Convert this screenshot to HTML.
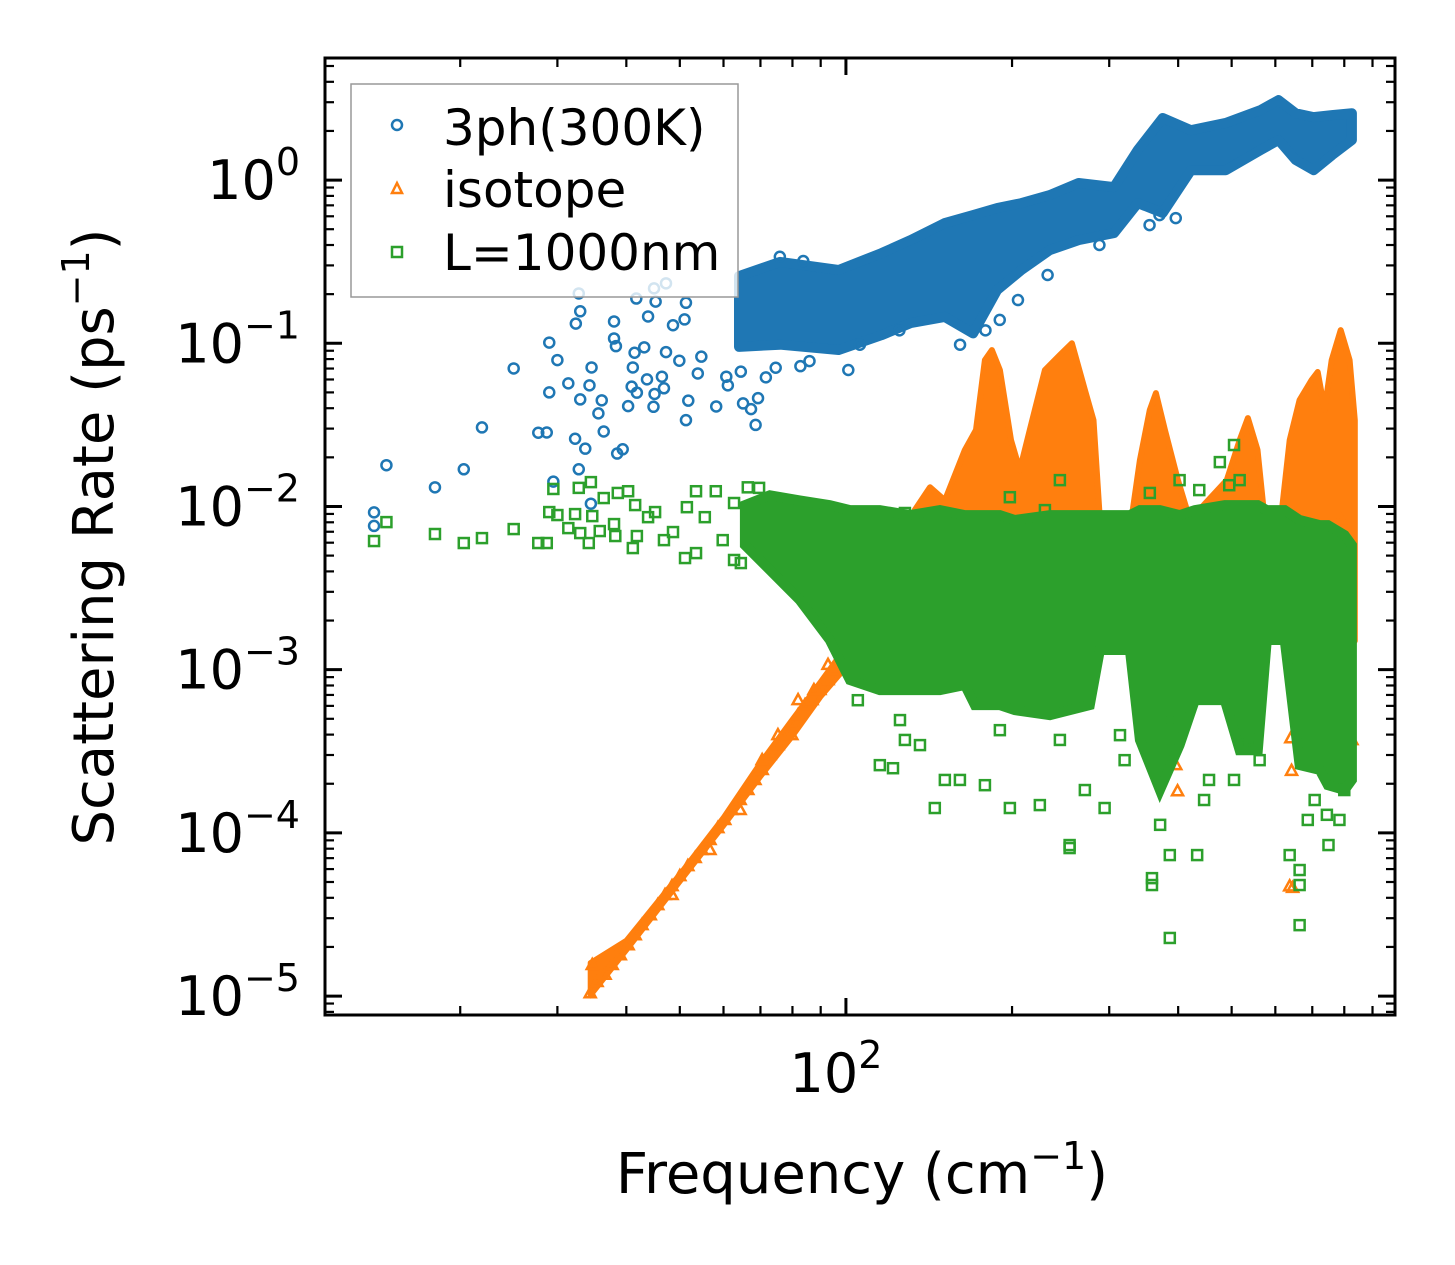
<!DOCTYPE html>
<html><head><meta charset="utf-8">
<style>
html,body{margin:0;padding:0;background:#fff;}
svg{display:block;font-family:"DejaVu Sans","Liberation Sans",sans-serif;}
</style></head>
<body>
<svg id="chart" width="1455" height="1265" viewBox="0 0 1455 1265" xmlns="http://www.w3.org/2000/svg">
<rect x="0" y="0" width="1455" height="1265" fill="#fff"/>
<g id="plot"></g>
<g id="axes"></g>
<g id="legend">
  <rect x="351" y="84" width="387" height="213" fill="rgba(255,255,255,0.8)" stroke="#999" stroke-width="1.5"/>
  <g>
    <circle cx="397" cy="125" r="5" fill="none" stroke="#1f77b4" stroke-width="2.5"/>
    <text x="443" y="145" font-size="50">3ph(300K)</text>
  </g>
  <g>
    <path d="M397,183 L402,193 L392,193 Z" fill="none" stroke="#ff7f0e" stroke-width="2.5"/>
    <text x="443" y="207" font-size="50">isotope</text>
  </g>
  <g>
    <rect x="392" y="247" width="10" height="10" fill="none" stroke="#2ca02c" stroke-width="2.5"/>
    <text x="443" y="270" font-size="50">L=1000nm</text>
  </g>
</g>
<text x="862" y="1193" font-size="56" text-anchor="middle">Frequency (cm<tspan font-size="38" dy="-24">−1</tspan><tspan dy="24">)</tspan></text>
<text transform="translate(113,537) rotate(-90)" font-size="56" text-anchor="middle">Scattering Rate (ps<tspan font-size="38" dy="-24">−1</tspan><tspan dy="24">)</tspan></text>
</svg>
<script>
// ---- axis ranges ----
const xDomainLog = [1.056, 2.995];
const yDomainLog = [-5.116, 0.748];
const yTickExps = [0, -1, -2, -3, -4, -5];
const yTickLabels = ["0", "−1", "−2", "−3", "−4", "−5"];
const xTickExps = [2];
const xTickLabels = ["2"];
const xMinorTicks = [20,30,40,50,60,70,80,90,200,300,400,500,600,700,800,900];

// ---- 3ph(300K): scattered points ----
const blueF = [13.96,13.96,14.7,18.0,20.3,21.9,25.0,27.7,28.7,29.0,29.0,30.0,29.5,31.4,32.3,32.4,32.8,33.0,33.0,33.7,32.8,34.3,34.6,35.6,36.1,36.4,38.0,38.0,38.3,38.5,39.4,40.3,40.9,41.1,41.4,41.7,41.8,43.1,43.6,43.8,44.8,45.0,45.2,44.9,46.4,46.8,47.2,47.2,48.6,49.9,51.0,51.3,51.3,51.8,53.9,54.7,58.2,60.7,61.1,64.5,65.1,67.3,68.6,69.3,71.6,74.6,75.9,83.7,82.7,85.9,34.5,396,101,106,125,161,179,190,205,232,288,355,370];
const blueV = [0.0092,0.0076,0.0179,0.0131,0.0169,0.0305,0.0701,0.0283,0.0284,0.101,0.050,0.0789,0.0142,0.0568,0.0260,0.132,0.202,0.157,0.0453,0.0226,0.0169,0.0552,0.0711,0.0372,0.0447,0.0288,0.136,0.107,0.096,0.0211,0.0224,0.0412,0.0542,0.0711,0.0875,0.188,0.0498,0.0944,0.0601,0.146,0.0408,0.0489,0.180,0.217,0.0624,0.0530,0.233,0.0883,0.129,0.0782,0.140,0.0338,0.177,0.0445,0.0653,0.0828,0.041,0.0624,0.0552,0.0670,0.0428,0.0395,0.0316,0.0461,0.0618,0.0708,0.339,0.319,0.0724,0.0778,0.0104,0.585,0.0686,0.098,0.12,0.098,0.12,0.139,0.184,0.262,0.40,0.53,0.61];
// ---- 3ph(300K): dense band envelope ----
const blueBandF = [64,76,97,116,131,151,170,188,208,234,264,306,338,375,422,488,565,608,653,704,760,826];
const blueBandHi = [0.258,0.315,0.281,0.357,0.429,0.545,0.610,0.674,0.723,0.809,0.959,0.906,1.53,2.40,2.02,2.24,2.69,3.09,2.57,2.43,2.50,2.57];
const blueBandLo = [0.095,0.098,0.091,0.112,0.133,0.145,0.115,0.212,0.281,0.372,0.429,0.473,0.723,0.628,1.15,1.15,1.53,1.76,1.33,1.15,1.42,1.76];

// ---- isotope: diagonal points ----
const orangeF = [34.4,34.7,35.4,36.6,37.7,39.0,40.3,41.5,42.7,44.2,45.6,47.0,48.4,50.0,51.7,53.3,54.8,56.7,58.6,60.3,62.1,64.3,66.4,68.4,70.5,72.8,75.3,77.5,79.8,81.9,84.3,86.8,89.7,92.8,95.5,98.3,101.7,70.5,75.3,81.9,87.5,92.8,79.8,64.3,56.7,48.4,396,399,640,642,645,826,788,788,637];
const orangeV = [1.04e-5,1.55e-5,1.22e-5,1.35e-5,1.55e-5,1.78e-5,2.05e-5,2.36e-5,2.72e-5,3.13e-5,3.61e-5,4.16e-5,4.72e-5,5.43e-5,6.26e-5,7.01e-5,7.85e-5,9.04e-5,1.07e-4,1.20e-4,1.38e-4,1.59e-4,1.83e-4,2.11e-4,2.43e-4,3.00e-4,3.45e-4,3.97e-4,4.58e-4,5.27e-4,6.07e-4,6.51e-4,7.50e-4,8.63e-4,9.95e-4,1.15e-3,1.32e-3,2.79e-4,3.97e-4,6.51e-4,7.50e-4,1.07e-3,3.97e-4,1.38e-4,7.85e-5,4.16e-5,2.6e-4,1.8e-4,3.8e-4,2.4e-4,4.6e-5,3.7e-4,0.0083,0.0068,4.7e-5];
// ---- isotope: diagonal band ----
const orangeDiagF = [34.4,40,50,60,70,80,90,101.7];
const orangeDiagHi = [1.6e-5,2.2e-5,5.6e-5,1.25e-4,2.7e-4,5.0e-4,8.5e-4,1.5e-3];
const orangeDiagLo = [1.0e-5,1.9e-5,5.0e-5,1.1e-4,2.2e-4,3.9e-4,6.8e-4,1.1e-3];
// ---- isotope: peak envelope ----
const orangeBandF = [101.7,110.5,119.1,125.3,133.3,142,151.1,164.3,172.1,178.6,183.9,190.1,199.1,206.6,215.4,229.4,244.2,256.7,271,281,288.5,327,341,355.4,364.5,378.4,399.5,420,490,517,535,557,574,611,637,664,698,716,737,759,788,818,836];
const orangeBandHi = [0.00152,0.0047,0.0095,0.0062,0.0095,0.0131,0.0109,0.0222,0.0294,0.0789,0.0908,0.0685,0.0255,0.0167,0.0294,0.0685,0.0847,0.100,0.0517,0.0338,0.00826,0.00716,0.0192,0.039,0.0495,0.0294,0.0145,0.00826,0.0145,0.0255,0.0348,0.0222,0.00826,0.00716,0.0255,0.0449,0.0595,0.0667,0.039,0.0789,0.1205,0.0789,0.0338];
const orangeBandLo = [0.0012,0.0012,0.0013,0.0014,0.0015,0.0015,0.0015,0.0015,0.0015,0.0015,0.0015,0.0015,0.0015,0.0015,0.0015,0.0015,0.0015,0.0015,0.0015,0.0015,0.0015,0.0015,0.0015,0.0015,0.0015,0.0015,0.0004,0.0008,0.0015,0.0015,0.0015,0.0015,0.0015,0.0015,0.0015,0.0015,0.0015,0.0015,0.0015,0.0015,0.0015,0.0015,0.0015];

// ---- L=1000nm: scattered points ----
const greenF = [13.96,14.7,18.0,20.3,21.9,25.0,27.7,28.7,29.0,29.5,30.0,31.4,32.3,32.8,33.0,34.5,34.2,34.7,35.8,36.4,38.0,38.2,38.6,40.3,41.5,41.1,41.8,43.8,45.1,46.8,48.6,51.1,53.5,51.5,53.5,58.1,55.5,59.8,62.7,64.5,66.4,69.6,62.7,
115.2,121.7,127.9,136.2,144.9,151.1,160.9,178.6,198.2,224.6,254.3,254.3,271,294.3,319.9,358.6,358.6,371,386.3,386.3,433,445.7,455,505,528,562,637,664,664,664,687,707,744,749,768,784,800,105.1,125.3,190.1,244.2,313.8,386.3,539,
476,495,505,562,244.2,355.4,402.4,436.8,517,198.2,127.9,142,229.4];
const greenV = [0.00614,0.00802,0.00678,0.00597,0.0064,0.00727,0.00597,0.00597,0.00924,0.0128,0.00886,0.00737,0.00898,0.0130,0.00687,0.0141,0.00597,0.00873,0.00707,0.01126,0.0078,0.00659,0.0121,0.0124,0.0102,0.00556,0.00659,0.0086,0.00924,0.00622,0.00697,0.00483,0.00518,0.0099,0.0124,0.0124,0.0086,0.00622,0.0047,0.0045,0.0131,0.0130,0.0105,
2.60e-4,2.49e-4,3.71e-4,3.45e-4,1.42e-4,2.11e-4,2.11e-4,1.96e-4,1.42e-4,1.48e-4,8.42e-5,8.07e-5,1.83e-4,1.42e-4,2.79e-4,4.79e-5,5.28e-5,1.12e-4,2.27e-5,7.31e-5,7.31e-5,1.59e-4,2.11e-4,2.11e-4,3.45e-4,2.79e-4,7.31e-5,5.92e-5,4.79e-5,2.72e-5,1.20e-4,1.59e-4,1.29e-4,8.42e-5,2.11e-4,1.20e-4,1.83e-4,6.5e-4,4.91e-4,4.26e-4,3.71e-4,3.97e-4,4.91e-4,3.71e-4,
0.0187,0.0135,0.0238,0.00826,0.0145,0.0121,0.0145,0.0126,0.0145,0.0114,0.00912,0.00886,0.0095];
// ---- L=1000nm: dense band envelope ----
const greenBandF = [65.6,72.8,82.5,93.5,101.7,115.2,130.6,148.0,164.3,171.3,190.1,202.3,234.2,276.7,288.5,327,341,370.7,402.4,428.9,486,517,557.7,579,624,664,722,747,801,826];
const greenBandHi = [0.0102,0.0117,0.0109,0.0102,0.0095,0.0095,0.00886,0.0095,0.00886,0.00886,0.00886,0.00826,0.00886,0.00886,0.00886,0.00886,0.0095,0.0095,0.00886,0.0095,0.0102,0.0102,0.0102,0.0095,0.0095,0.00826,0.00769,0.00769,0.00668,0.0058];
const greenBandLo = [0.0058,0.00408,0.00267,0.00152,8.63e-4,7.5e-4,7.5e-4,7.5e-4,8.05e-4,6.07e-4,6.07e-4,5.65e-4,5.27e-4,6.07e-4,1.32e-3,1.32e-3,3.71e-4,1.83e-4,3.45e-4,6.51e-4,6.51e-4,3.21e-4,3.21e-4,1.52e-3,1.52e-3,2.6e-4,2.43e-4,1.96e-4,1.83e-4,2.11e-4];

// ---- scales ----
const PL = 325, PR = 1395, PT = 58, PB = 1015;
function sx(f){ return PL + (Math.log10(f) - xDomainLog[0]) / (xDomainLog[1] - xDomainLog[0]) * (PR - PL); }
function sy(v){ return PB - (Math.log10(v) - yDomainLog[0]) / (yDomainLog[1] - yDomainLog[0]) * (PB - PT); }

const NS = "http://www.w3.org/2000/svg";
const plot = document.getElementById('plot');
const axes = document.getElementById('axes');
function mk(tag, attrs, parent){ const e = document.createElementNS(NS, tag); for (const k in attrs) e.setAttribute(k, attrs[k]); parent.appendChild(e); return e; }

function bandPath(F, Hi, Lo){
  let d = '';
  for (let i = 0; i < F.length; i++) d += (i ? 'L' : 'M') + sx(F[i]).toFixed(1) + ',' + sy(Hi[i]).toFixed(1);
  for (let i = F.length - 1; i >= 0; i--) d += 'L' + sx(F[i]).toFixed(1) + ',' + sy(Lo[i]).toFixed(1);
  return d + 'Z';
}

// blue
const gB = mk('g', {}, plot);


const bb = mk('path', {d: bandPath(blueBandF, blueBandHi, blueBandLo), fill: '#1f77b4', stroke: '#1f77b4', 'stroke-width': 10, 'stroke-linejoin': 'round'}, gB);


for (let i = 0; i < blueF.length; i++) {
  const c = mk('circle', {cx: sx(blueF[i]), cy: sy(blueV[i]), r: 5, fill: 'none', stroke: '#1f77b4', 'stroke-width': 2.5}, gB);
  
  
}
// orange
const gO = mk('g', {}, plot);


const ob = mk('path', {d: bandPath(orangeBandF, orangeBandHi, orangeBandLo), fill: '#ff7f0e', stroke: '#ff7f0e', 'stroke-width': 6, 'stroke-linejoin': 'round'}, gO);


const od = mk('path', {d: bandPath(orangeDiagF, orangeDiagHi, orangeDiagLo), fill: '#ff7f0e', stroke: '#ff7f0e', 'stroke-width': 5, 'stroke-linejoin': 'round'}, gO);


for (let i = 0; i < orangeF.length; i++) {
  const x = sx(orangeF[i]), y = sy(orangeV[i]);
  const t = mk('path', {d: `M${x},${y-6}L${x+5.5},${y+4}L${x-5.5},${y+4}Z`, fill: 'none', stroke: '#ff7f0e', 'stroke-width': 2.5}, gO);
  
  
}
// green
const gG = mk('g', {}, plot);


const gb = mk('path', {d: bandPath(greenBandF, greenBandHi, greenBandLo), fill: '#2ca02c', stroke: '#2ca02c', 'stroke-width': 10, 'stroke-linejoin': 'miter'}, gG);


for (let i = 0; i < greenF.length; i++) {
  const s = mk('rect', {x: sx(greenF[i]) - 5, y: sy(greenV[i]) - 5, width: 10, height: 10, fill: 'none', stroke: '#2ca02c', 'stroke-width': 2.5}, gG);
  
  
}

// frame
const fr = mk('rect', {x: PL, y: PT, width: PR - PL, height: PB - PT, fill: 'none', stroke: '#000', 'stroke-width': 3}, axes);



// y ticks
for (let e = -6; e <= 1; e++) {
  for (let m = 1; m <= 9; m++) {
    const v = m * Math.pow(10, e);
    const y = sy(v);
    if (y < PT || y > PB) continue;
    const len = m === 1 ? 17 : 9, w = m === 1 ? 3 : 2.2;
    const t1 = mk('line', {x1: PL, x2: PL + len, y1: y, y2: y, stroke: '#000', 'stroke-width': w}, axes);
    
    
    const t2 = mk('line', {x1: PR, x2: PR - len, y1: y, y2: y, stroke: '#000', 'stroke-width': w}, axes);
    
    
  }
}
yTickExps.forEach((e, i) => {
  const y = sy(Math.pow(10, e));
  const t = mk('text', {x: 300, y: y + 19, 'font-size': 54, 'text-anchor': 'end'}, axes);
  
  
  t.innerHTML = '10<tspan font-size="38" dy="-24">' + yTickLabels[i] + '</tspan>';
});
// x ticks
xMinorTicks.forEach(f => {
  const x = sx(f);
  const a = mk('line', {x1: x, x2: x, y1: PB, y2: PB - 9, stroke: '#000', 'stroke-width': 2.2}, axes);
  
  
  const b = mk('line', {x1: x, x2: x, y1: PT, y2: PT + 9, stroke: '#000', 'stroke-width': 2.2}, axes);
  
  
});
xTickExps.forEach((e, i) => {
  const x = sx(Math.pow(10, e));
  const a = mk('line', {x1: x, x2: x, y1: PB, y2: PB - 17, stroke: '#000', 'stroke-width': 3}, axes);
  
  
  const b = mk('line', {x1: x, x2: x, y1: PT, y2: PT + 17, stroke: '#000', 'stroke-width': 3}, axes);
  
  
  const t = mk('text', {x: x - 10, y: 1092, 'font-size': 54, 'text-anchor': 'middle'}, axes);
  
  
  t.innerHTML = '10<tspan font-size="38" dy="-24">' + xTickLabels[i] + '</tspan>';
});
</script>
</body></html>
